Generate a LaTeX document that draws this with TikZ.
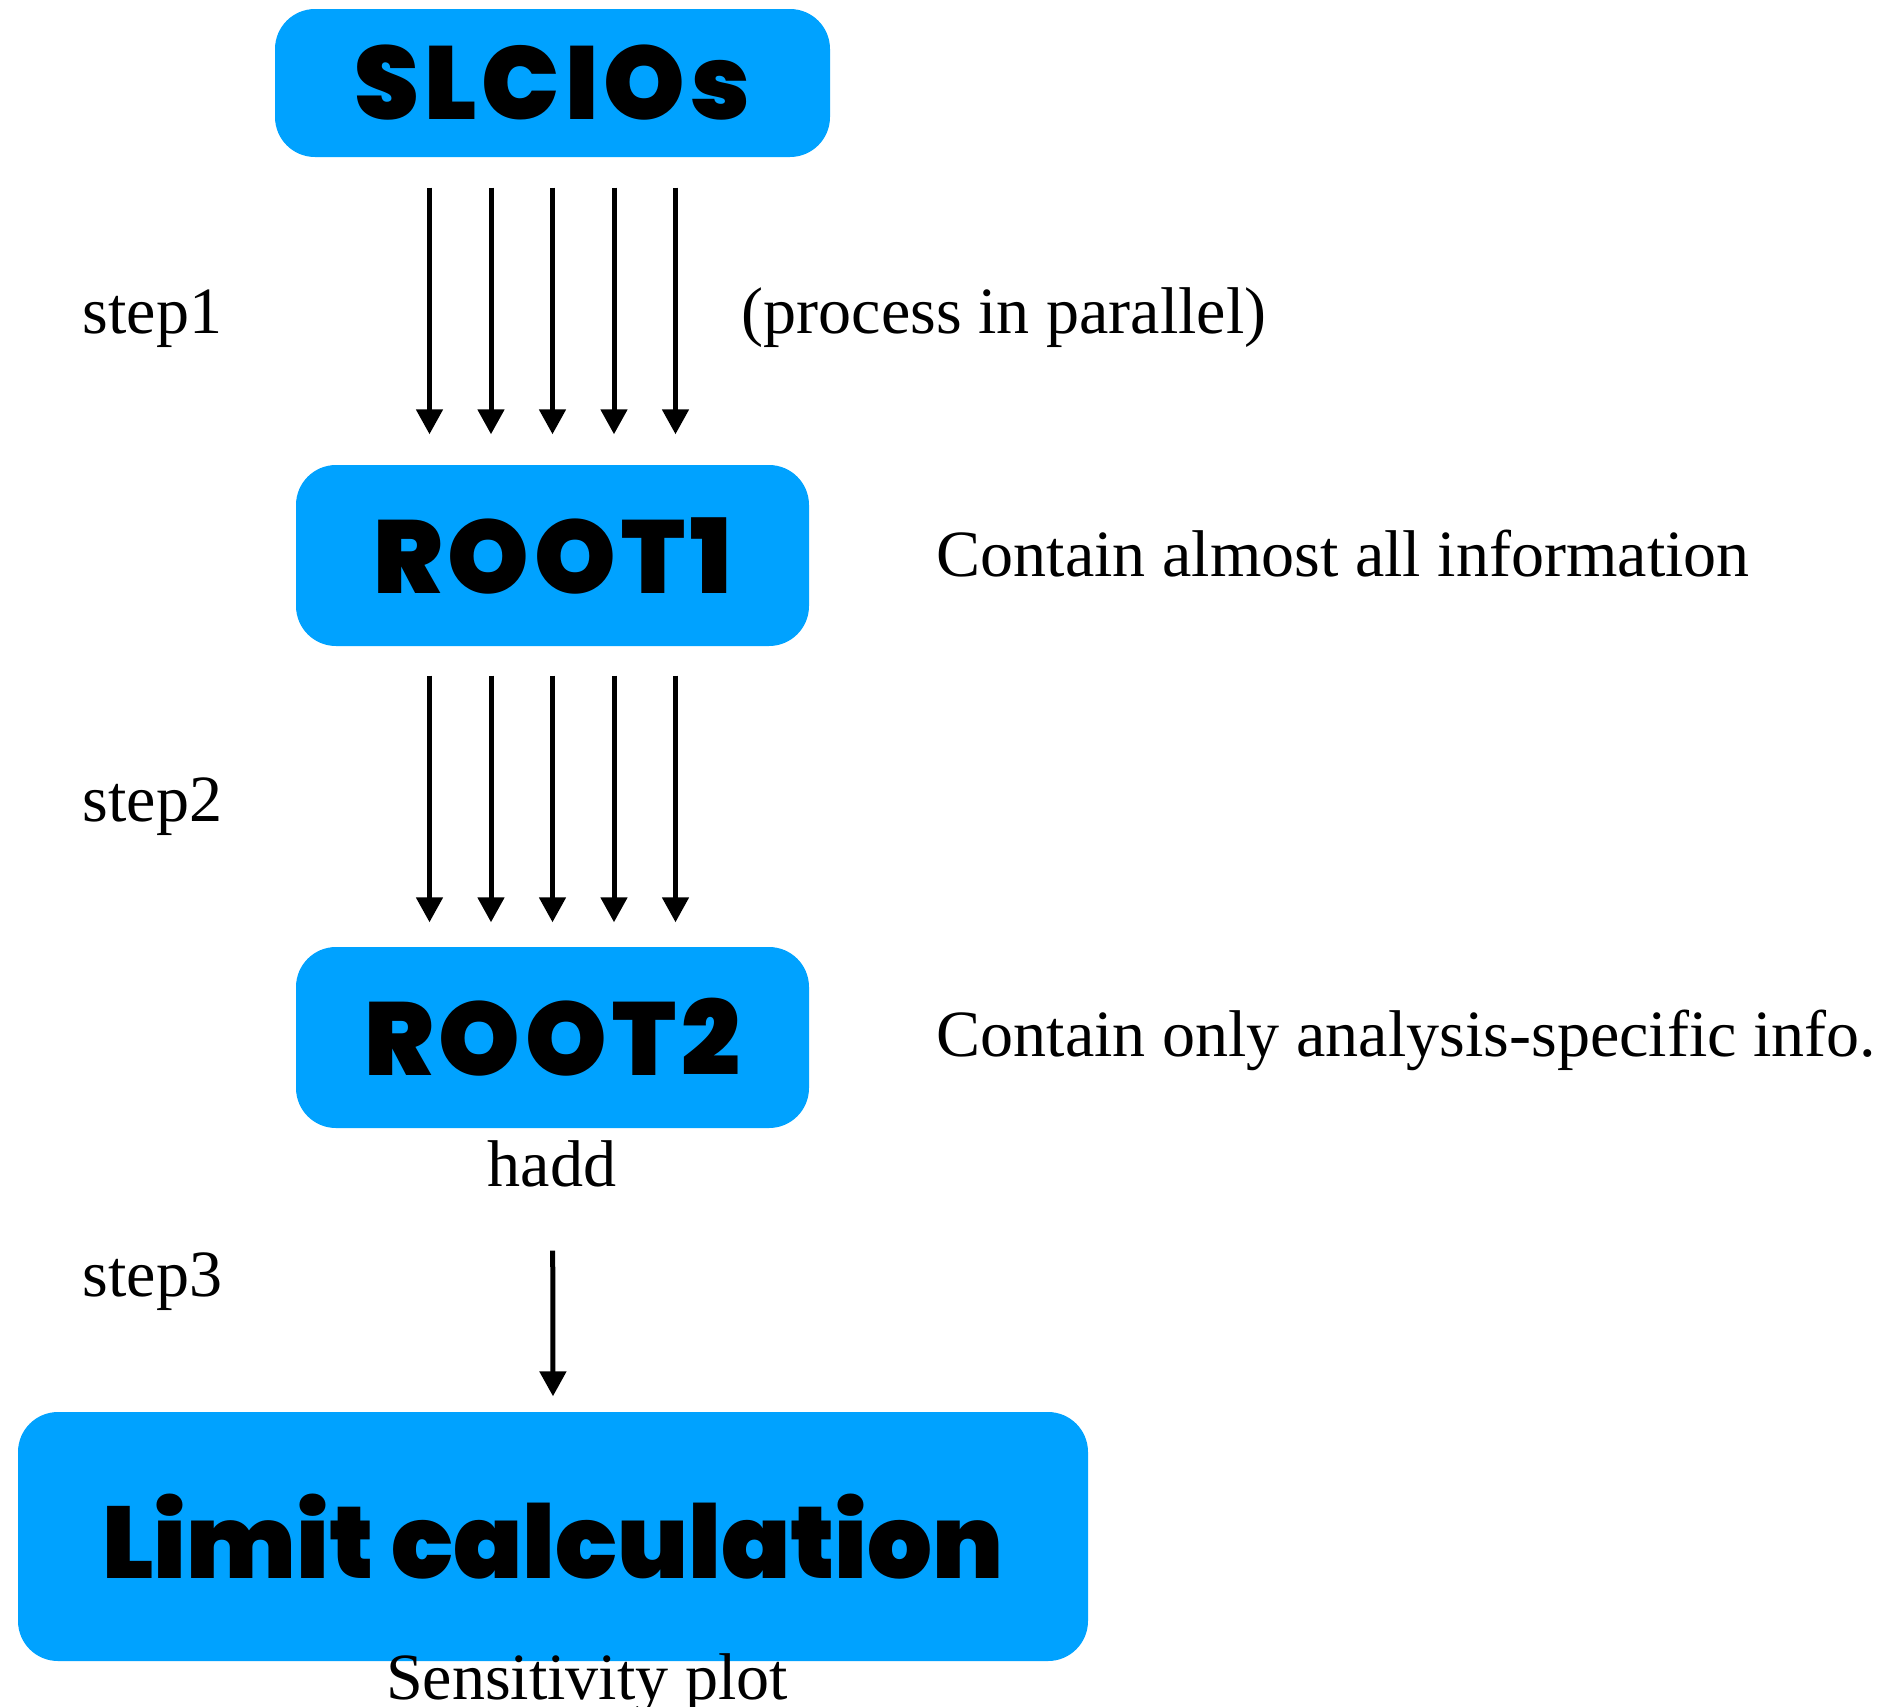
\documentclass[tikz,border=0pt]{standalone}
\usepackage{fontspec}
\usepackage{tikz}
\usetikzlibrary{arrows.meta}
\setmainfont{Liberation Serif}
\newfontfamily\gillfont{Poppins Black}
\definecolor{boxblue}{RGB}{0,162,255}

\begin{document}
\begin{tikzpicture}[x=0.1mm,y=-0.1mm]
\tikzstyle{every node}+=[inner sep=0pt]
\tikzstyle{filebox}=[fill=boxblue,rounded corners=4mm,font=\gillfont\fontsize{29}{29}\selectfont]
\tikzstyle{widetext}=[font=\gillfont\fontsize{29.5}{29}\selectfont\addfontfeature{LetterSpace=5}]
\tikzstyle{note}=[font=\fontsize{18.8}{20}\selectfont]
\tikzstyle{flow}=[line width=0.5mm,-{Triangle[width=2.6mm,length=2.5mm]}]
\useasboundingbox (0,0) rectangle (1900,1707);
\node [filebox,widetext,minimum width=55.5mm,minimum height=14.8mm] (slcio) at (552.5,83) {SLCIOs};
\node [filebox,widetext,minimum width=51.3mm,minimum height=18.1mm] (root1) at (552.5,555.5) {ROOT1};
\node [filebox,widetext,minimum width=51.3mm,minimum height=18.1mm] (root2) at (552.5,1037.5) {ROOT2};
\node [filebox,minimum width=107mm,minimum height=24.9mm] (limit) at (553,1536.5) {Limit calculation};
\node [note,anchor=base west] (step1) at (82,333) {step1};
\node [note,anchor=base west] (parallel) at (741,333) {(process in parallel)};
\node [note,anchor=base west] (info1) at (936,576) {Contain almost all information};
\node [note,anchor=base west] (step2) at (82,821) {step2};
\node [note,anchor=base west] (info2) at (936,1056) {Contain only analysis-specific info.};
\node [note,anchor=base] (hadd) at (552,1186) {hadd};
\node [note,anchor=base west] (step3) at (82,1296) {step3};
\node [note,anchor=base] (sens) at (587,1699) {Sensitivity plot};
\foreach \dx in {-123,-61.5,0,61.5,123} {
  \draw [flow,shorten <=3mm,shorten >=3mm] ([xshift=\dx*0.1mm]slcio.south) -- ([xshift=\dx*0.1mm]root1.north);
  \draw [flow,shorten <=2.9mm,shorten >=2.4mm] ([xshift=\dx*0.1mm]root1.south) -- ([xshift=\dx*0.1mm]root2.north);
}
\draw [flow,shorten <=12.2mm,shorten >=1.5mm] (root2.south) -- (limit.north);
\end{tikzpicture}
\end{document}
